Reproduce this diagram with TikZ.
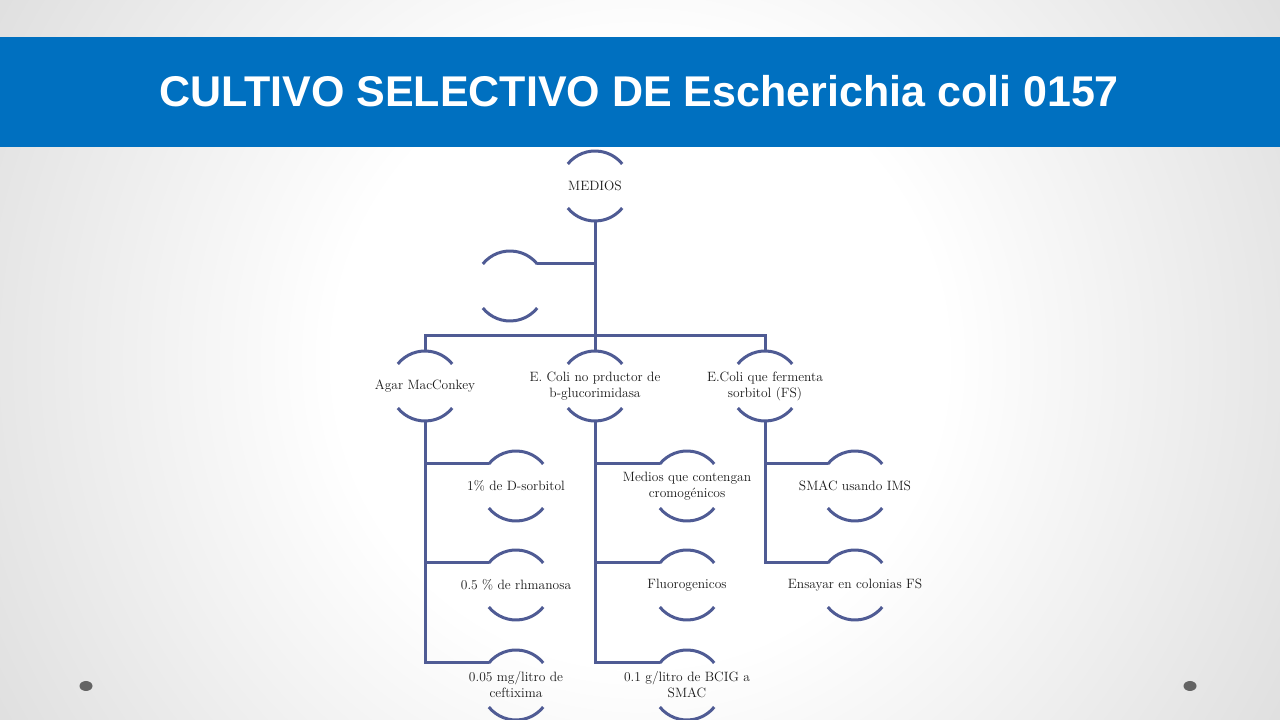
\documentclass[tikz,border=0pt]{standalone}
\usepackage{fontspec}
\newfontfamily\titlefont{Liberation Sans}
\usetikzlibrary{calc}
\definecolor{barblue}{HTML}{0070C0}
\definecolor{linecol}{RGB}{79,91,148}
\definecolor{dotgray}{RGB}{100,100,100}
\pgfdeclareradialshading{slidebg}{\pgfpoint{0bp}{0bp}}{%
  color(0bp)=(white); color(10bp)=(white); color(25bp)=(black!13); color(50bp)=(black!13)}
\tikzset{
  conn/.style={draw=linecol, line width=3pt},
  ring/.style={circle, minimum size=70pt, inner sep=0pt, outer sep=0pt},
  lbl/.style={font=\fontsize{13.5}{16}\selectfont, align=center, inner sep=0pt, text=black!90},
}
\newcommand{\arcnode}[4]{%
  \node[ring] (#1) at (#2,#3) {};
  \draw[conn] (#1.141) arc[start angle=141, end angle=39, radius=35pt];
  \draw[conn] (#1.219) arc[start angle=219, end angle=321, radius=35pt];
  \node[lbl] (t#1) at (#1.center) {#4};
}
\begin{document}
\begin{tikzpicture}[x=1pt,y=1pt]
\useasboundingbox (0,0) rectangle (1280,720);
% background
\begin{scope}
\clip (0,0) rectangle (1280,720);
\shade[shading=slidebg] (-120,-400) rectangle (1400,1120);
\end{scope}
\fill[barblue] (0,573) rectangle (1280,683);
\node[font=\titlefont\bfseries\fontsize{43}{50}\selectfont, text=white, anchor=base, inner sep=0pt] (title) at (639,613) {CULTIVO SELECTIVO DE Escherichia coli 0157};
\fill[dotgray] (86,34) ellipse[x radius=6.5, y radius=5];
\fill[dotgray] (1190,34) ellipse[x radius=6.5, y radius=5];
% nodes
\arcnode{M}{595}{534}{MEDIOS}
\arcnode{X}{510}{434}{}
\arcnode{A}{425}{334}{Agar MacConkey}
\arcnode{B}{595}{334}{E. Coli no prductor de\\b-glucorimidasa}
\arcnode{C}{765}{334}{E.Coli que fermenta\\sorbitol (FS)}
\arcnode{A1}{516}{234}{1\% de D-sorbitol}
\arcnode{A2}{516}{135}{0.5 \% de rhmanosa}
\arcnode{A3}{516}{35}{0.05 mg/litro de\\ceftixima}
\arcnode{B1}{687}{234}{Medios que contengan\\cromogénicos}
\arcnode{B2}{687}{135}{Fluorogenicos}
\arcnode{B3}{687}{35}{0.1 g/litro de BCIG a\\SMAC}
\arcnode{C1}{855}{234}{SMAC usando IMS}
\arcnode{C2}{855}{135}{Ensayar en colonias FS}
% connectors
\coordinate (bus) at (595,384);
\draw[conn] (M.south) -- (M.south |- bus);
\draw[conn] (X.39) -- (M.south |- X.39);
\draw[conn] (A.north) -- (A.north |- bus) -- (C.north |- bus) -- (C.north);
\draw[conn] (B.north) -- (B.north |- bus);
\draw[conn] (A.south) |- (A1.141);
\draw[conn] (A.south) |- (A2.141);
\draw[conn] (A.south) |- (A3.141);
\draw[conn] (B.south) |- (B1.141);
\draw[conn] (B.south) |- (B2.141);
\draw[conn] (B.south) |- (B3.141);
\draw[conn] (C.south) |- (C1.141);
\draw[conn] (C.south) |- (C2.141);
\end{tikzpicture}
\end{document}
